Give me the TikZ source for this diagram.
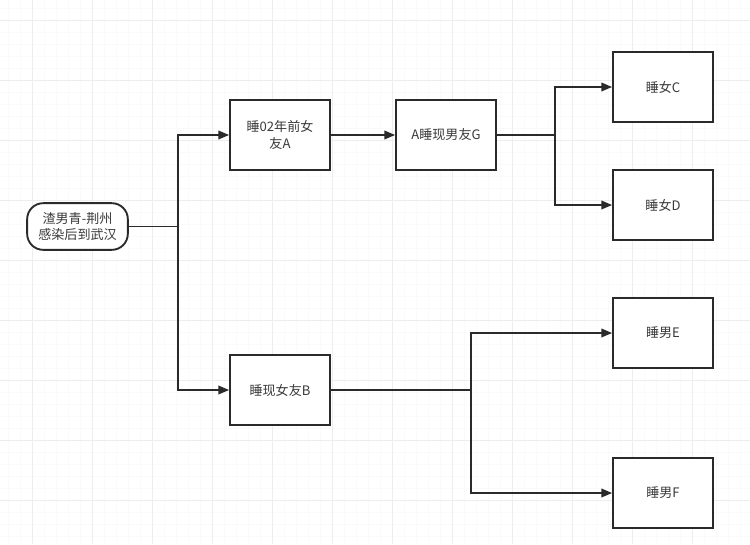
\documentclass[tikz,border=0pt]{standalone}
\usepackage{fontspec}
\setmainfont{Noto Sans CJK SC}
\usetikzlibrary{arrows.meta}
\definecolor{boxline}{HTML}{2A2A2A}
\definecolor{txt}{HTML}{3A3A3A}
\tikzset{
  px/.style={x=0.75pt,y=-0.75pt},
  card/.style={draw=boxline,line width=1.4pt,fill=white,minimum width=75pt,minimum height=52.5pt,
    inner sep=2pt,align=center,text=txt,font=\fontsize{9.8}{12.5}\selectfont},
  startbox/.style={card,rounded corners=12pt,minimum width=75.5pt,minimum height=35pt},
  link/.style={draw=boxline,line width=1pt,-{Triangle[length=8pt,width=6.5pt]}},
  plain/.style={draw=boxline,line width=1pt}
}
\begin{document}
\begin{tikzpicture}[px]
\useasboundingbox (0,0) rectangle (750,544);
\fill[white] (0,0) rectangle (750,544);
% faint grid
\foreach \x in {8,20,...,750} \draw[gray!4,line width=0.4pt] (\x,0) -- (\x,544);
\foreach \y in {8,20,...,544} \draw[gray!4,line width=0.4pt] (0,\y) -- (750,\y);
\foreach \x in {32,92,...,750} \draw[gray!14,line width=0.6pt] (\x,0) -- (\x,544);
\foreach \y in {20,80,...,544} \draw[gray!14,line width=0.6pt] (0,\y) -- (750,\y);

\node[startbox] (s) at (77.5,226.5) {渣男青-荆州\\感染后到武汉};
\node[card] (a) at (280,135) {睡02年前女\\友A};
\node[card] (g) at (446,135) {A睡现男友G};
\node[card] (c) at (663,87) {睡女C};
\node[card] (d) at (663,205) {睡女D};
\node[card] (b) at (280,390) {睡现女友B};
\node[card] (e) at (663,333) {睡男E};
\node[card] (f) at (663,493) {睡男F};

\coordinate (j1) at (178,226.5);
\coordinate (j2) at (555,135);
\coordinate (j3) at (471,390);

\draw[plain] (s.east) -- (j1);
\draw[link] (j1) |- (a.west);
\draw[link] (j1) |- (b.west);
\draw[link] (a) -- (g);
\draw[plain] (g.east) -- (j2);
\draw[link] (j2) |- (c.west);
\draw[link] (j2) |- (d.west);
\draw[plain] (b.east) -- (j3);
\draw[link] (j3) |- (e.west);
\draw[link] (j3) |- (f.west);
\end{tikzpicture}
\end{document}
